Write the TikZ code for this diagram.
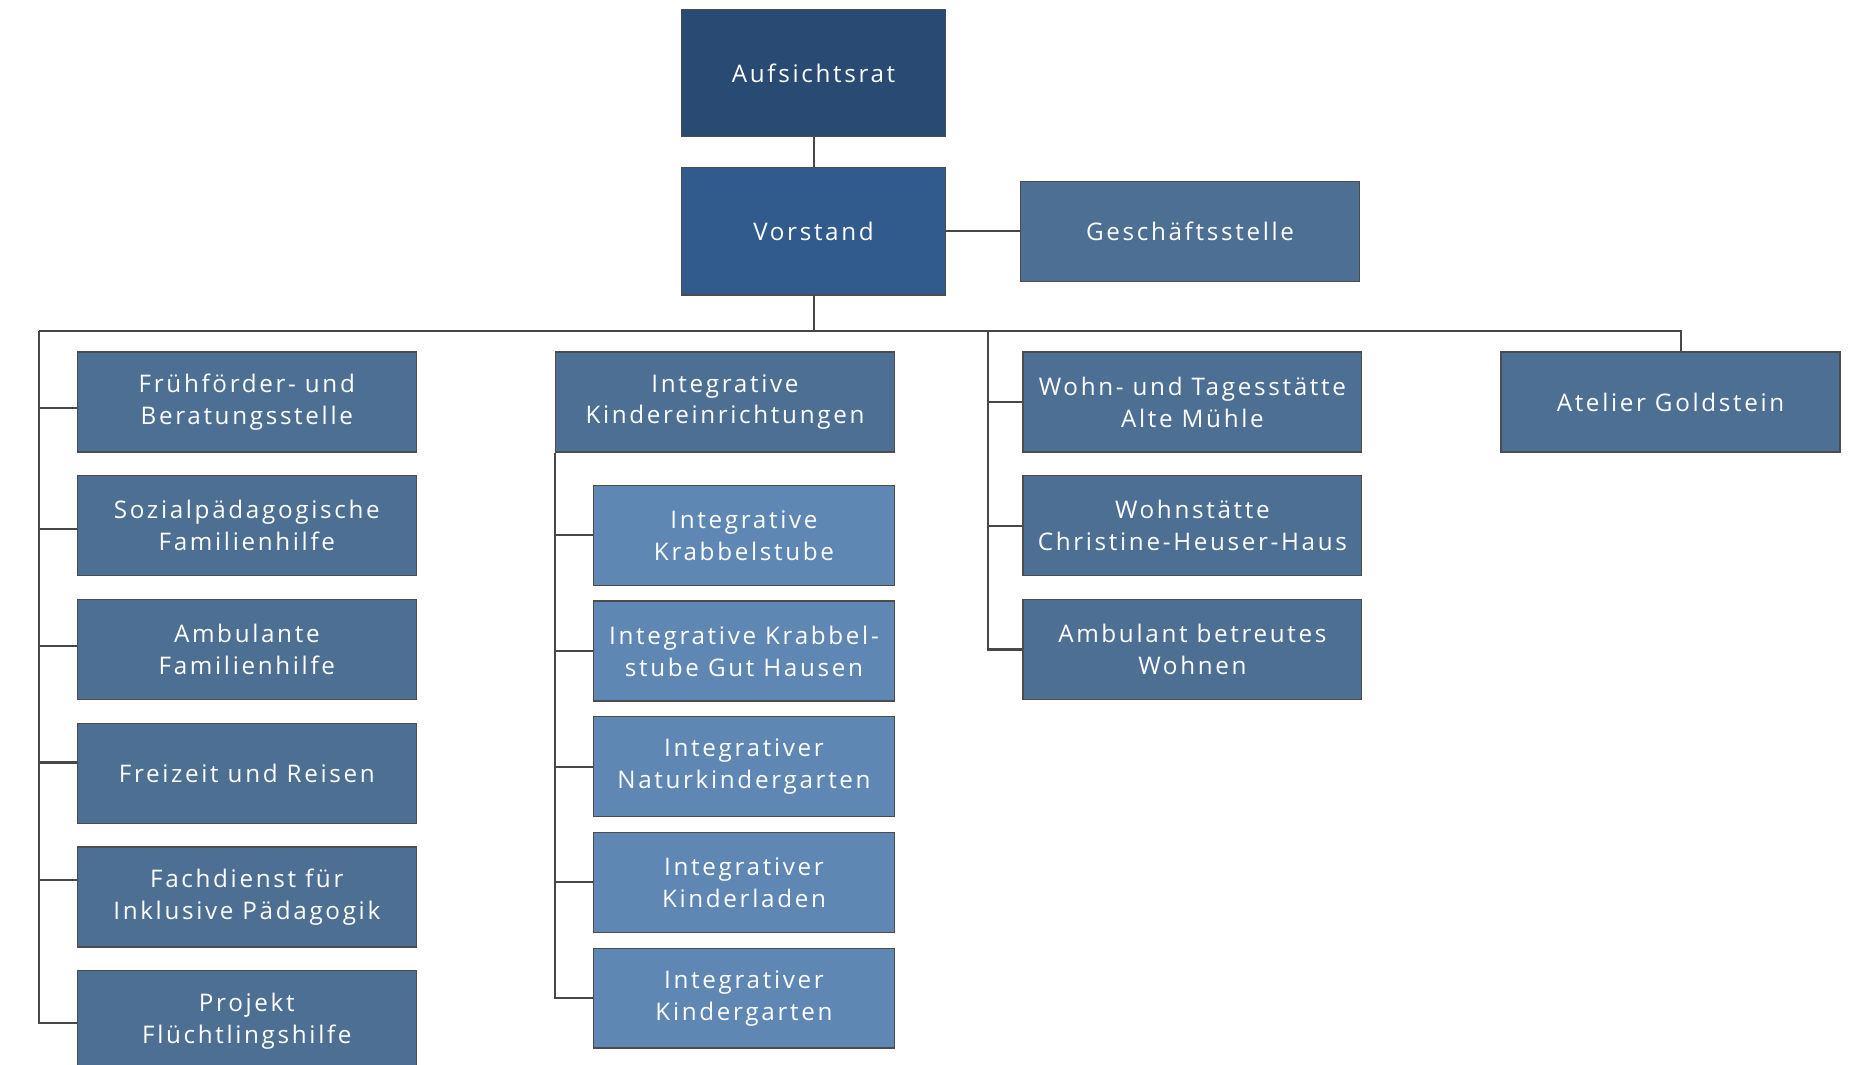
\documentclass[tikz,border=0pt]{standalone}
\usepackage{fontspec}
\setmainfont[LetterSpace=11]{Open Sans}
\usetikzlibrary{positioning, calc}
\definecolor{orgtop}{RGB}{40,74,115}
\definecolor{orgboard}{RGB}{50,91,141}
\definecolor{orgunit}{RGB}{78,111,148}
\definecolor{orgsub}{RGB}{94,135,180}
\tikzset{
  org box/.style={draw=black!70, line width=0.6pt, text=white, align=center, inner sep=0,
    minimum width=5.7cm, minimum height=1.68cm, font=\fontsize{11.6}{15.3}\selectfont},
  org top/.style={org box, fill=orgtop, minimum width=4.44cm, minimum height=2.14cm},
  org board/.style={org box, fill=orgboard, minimum width=4.44cm, minimum height=2.14cm},
  org unit/.style={org box, fill=orgunit},
  org sub/.style={org box, fill=orgsub, minimum width=5.06cm},
  org link/.style={draw=black!72, line width=1pt}
}

\begin{document}
\begin{tikzpicture}[x=0.02cm, y=-0.02cm]
\useasboundingbox (0,0) rectangle (1568,895);

% Leitung
\node[org top] (n0) at (684,61.5) {Aufsichtsrat};
\node[org board, below=0.5cm of n0] (n1) {Vorstand};
\node[org unit, right=1.24cm of n1] (n2) {Geschäftsstelle};

% Spalte 1
\node[org unit] (a1) at (207.5,338) {Frühförder- und\\Beratungsstelle};
\node[org unit, below=0.38cm of a1] (a2) {Sozialpädagogische\\Familienhilfe};
\node[org unit, below=0.38cm of a2] (a3) {Ambulante\\Familienhilfe};
\node[org unit, below=0.38cm of a3] (a4) {Freizeit und Reisen};
\node[org unit, below=0.38cm of a4] (a5) {Fachdienst für\\Inklusive Pädagogik};
\node[org unit, below=0.38cm of a5] (a6) {Projekt\\Flüchtlingshilfe};

% Spalte 2
\node[org unit] (b0) at (609.5,338) {Integrative\\Kindereinrichtungen};
\node[org sub, below=0.54cm of b0.south east, anchor=north east] (b1) {Integrative\\Krabbelstube};
\node[org sub, below=0.245cm of b1] (b2) {Integrative Krabbel-\\stube Gut Hausen};
\node[org sub, below=0.245cm of b2] (b3) {Integrativer\\Naturkindergarten};
\node[org sub, below=0.245cm of b3] (b4) {Integrativer\\Kinderladen};
\node[org sub, below=0.245cm of b4] (b5) {Integrativer\\Kindergarten};

% Spalte 3 und 4
\node[org unit] (c1) at (1002.5,338) {Wohn- und Tagesstätte\\Alte Mühle};
\node[org unit, below=0.38cm of c1] (c2) {Wohnstätte\\Christine-Heuser-Haus};
\node[org unit, below=0.38cm of c2] (c3) {Ambulant betreutes\\Wohnen};
\node[org unit] (d1) at (1404.5,338) {Atelier Goldstein};

% Linien
\coordinate (bl) at (33,278);
\coordinate (bm) at (831,278);
\coordinate (br) at (1413,278);
\draw[org link] (n0) -- (n1);
\draw[org link] (n2.west) -- (n2.west -| n1.east);
\draw[org link] (n1.south) -- (n1.south |- bl);
\draw[org link] (bl) -- (br) -- (br |- d1.north);

\draw[org link] (bl) |- ([yshift=-0.04cm]a6.west);
\draw[org link] ([yshift=-0.1cm]a1.west) -- ([yshift=-0.1cm]a1.west -| bl);
\draw[org link] ([yshift=-0.06cm]a2.west) -- ([yshift=-0.06cm]a2.west -| bl);
\draw[org link] ([yshift=0.06cm]a3.west) -- ([yshift=0.06cm]a3.west -| bl);
\draw[org link] ([yshift=0.18cm]a4.west) -- ([yshift=0.18cm]a4.west -| bl);
\draw[org link] ([yshift=0.28cm]a5.west) -- ([yshift=0.28cm]a5.west -| bl);

\draw[org link] (b0.south west) |- (b5.west);
\draw[org link] (b1.west) -- (b1.west -| b0.south west);
\draw[org link] (b2.west) -- (b2.west -| b0.south west);
\draw[org link] (b3.west) -- (b3.west -| b0.south west);
\draw[org link] (b4.west) -- (b4.west -| b0.south west);

\draw[org link] (bm) |- (c3.west);
\draw[org link] (c1.west) -- (c1.west -| bm);
\draw[org link] (c2.west) -- (c2.west -| bm);

\end{tikzpicture}
\end{document}
